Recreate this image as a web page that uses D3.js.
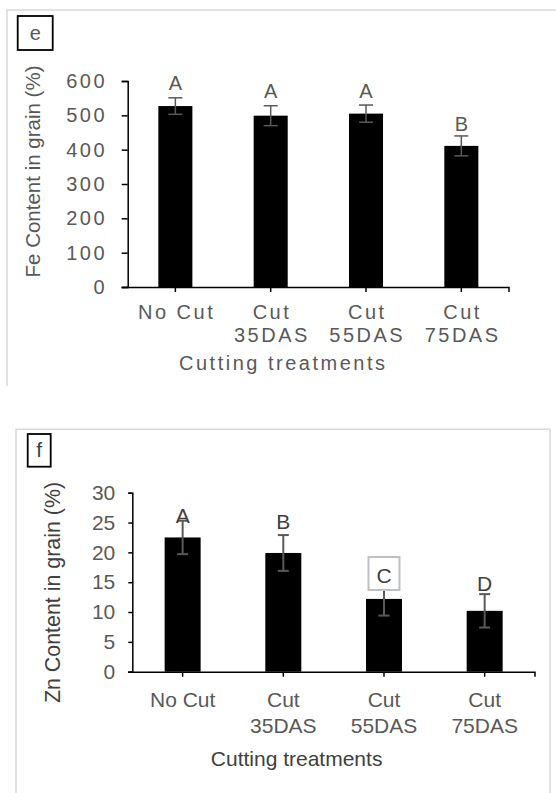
<!DOCTYPE html>
<html>
<head>
<meta charset="utf-8">
<script src="https://cdn.jsdelivr.net/npm/d3@7"></script>
<style>
  body { margin: 0; background: #fff; }
  text { font-family: "Liberation Sans", Arial, sans-serif; }
</style>
</head>
<body>
<div class="plot"></div>
<script>
// data
var categories = ["No Cut", "Cut 35DAS", "Cut 55DAS", "Cut 75DAS"];
var catLines = [["No Cut"], ["Cut", "35DAS"], ["Cut", "55DAS"], ["Cut", "75DAS"]];

var feValues = [527, 499, 505, 411];
var feErrors = [24, 29, 25, 29];
var feLetters = ["A", "A", "A", "B"];
var feLetterAt = [574, 551, 551, 454];
var feTicks = [0, 100, 200, 300, 400, 500, 600];

var znValues = [22.5, 19.9, 12.2, 10.2];
var znErrors = [2.8, 3.0, 2.8, 2.8];
var znLetters = ["A", "B", "C", "D"];
var znLetterAt = [24.95, 23.9, 14.87, 13.57];
var znBoxed = [false, false, true, false];
var znTicks = [0, 5, 10, 15, 20, 25, 30];

var svg = d3.select(".plot")
  .append("svg")
  .attr("width", 556)
  .attr("height", 793);

function drawPanel(p) {
  var g = svg.append("g");

  // outer frame (light grey, open at the bottom)
  g.append("path")
    .attr("d", p.frame)
    .attr("fill", "none")
    .attr("stroke", "#d9d9d9")
    .attr("stroke-width", 1.5);

  // panel letter in a box
  g.append("rect")
    .attr("x", p.tag.x).attr("y", p.tag.y)
    .attr("width", p.tag.w).attr("height", p.tag.h)
    .attr("fill", "#fff")
    .attr("stroke", "#000")
    .attr("stroke-width", 1.8);
  g.append("text")
    .attr("x", p.tag.x + p.tag.w / 2)
    .attr("y", p.tag.base)
    .attr("text-anchor", "middle")
    .style("font-size", p.tag.size + "px")
    .style("fill", p.tag.color)
    .text(p.tag.label);

  var y = d3.scaleLinear().domain(p.domain).range([p.y0, p.y1]);
  var x = d3.scaleBand().domain(categories).range([p.x0, p.x1])
    .paddingInner(p.pad).paddingOuter(p.pad / 2);

  var ls = p.spacing;

  // y axis
  var yAxis = g.append("g")
    .attr("transform", `translate(${p.x0}, 0)`)
    .call(d3.axisLeft(y).tickValues(p.ticks).tickSize(p.yTick).tickSizeOuter(p.yTick).tickPadding(p.yPad));
  yAxis.select(".domain").attr("stroke", "#000").attr("stroke-width", 1.5);
  yAxis.selectAll(".tick line").attr("stroke", "#000").attr("stroke-width", 1.5);
  yAxis.selectAll("text")
    .attr("font-family", null)
    .style("font-size", p.font + "px")
    .style("letter-spacing", ls + "px")
    .style("fill", "#595959");

  // bars
  g.selectAll(".bar")
    .data(p.values)
    .enter()
    .append("rect")
    .attr("x", (d, i) => x(categories[i]))
    .attr("y", d => y(d))
    .attr("width", x.bandwidth())
    .attr("height", d => y(0) - y(d))
    .attr("fill", "#000");

  // x axis
  var xAxis = g.append("g")
    .attr("transform", `translate(0, ${p.y0})`)
    .call(d3.axisBottom(x).tickSize(5).tickSizeOuter(0));
  xAxis.select(".domain").attr("stroke", "#000").attr("stroke-width", 1.5)
    .attr("d", `M${p.x0 - p.yTick},0.5H${p.x1}V5`);
  xAxis.selectAll(".tick line").attr("stroke", "#000").attr("stroke-width", 1.5);
  xAxis.selectAll(".tick text").each(function(d, i) {
    var t = d3.select(this)
      .attr("font-family", null)
      .attr("dy", null)
      .attr("y", null)
      .style("font-size", p.font + "px")
      .style("letter-spacing", ls + "px")
      .style("fill", "#595959")
      .text(null);
    catLines[i].forEach((line, k) => {
      t.append("tspan")
        .attr("x", ls / 2)
        .attr("y", p.lab1 + k * p.labStep)
        .text(line);
    });
  });

  // error bars
  var eb = g.selectAll(".err")
    .data(p.values)
    .enter()
    .append("g")
    .attr("stroke", "#595959")
    .attr("stroke-width", p.ebWidth);
  eb.append("line")
    .attr("x1", (d, i) => x(categories[i]) + x.bandwidth() / 2)
    .attr("x2", (d, i) => x(categories[i]) + x.bandwidth() / 2)
    .attr("y1", (d, i) => y(d - p.errors[i]))
    .attr("y2", (d, i) => y(d + p.errors[i]));
  [-1, 1].forEach(s => {
    eb.append("line")
      .attr("x1", (d, i) => x(categories[i]) + x.bandwidth() / 2 - p.cap / 2)
      .attr("x2", (d, i) => x(categories[i]) + x.bandwidth() / 2 + p.cap / 2)
      .attr("y1", (d, i) => y(d + s * p.errors[i]))
      .attr("y2", (d, i) => y(d + s * p.errors[i]));
  });

  // significance letters
  p.letters.forEach((l, i) => {
    var cx = x(categories[i]) + x.bandwidth() / 2;
    var ty = y(p.letterAt[i]);
    if (p.boxed && p.boxed[i]) {
      g.append("rect")
        .attr("x", cx - 15.5).attr("y", ty - 26)
        .attr("width", 31).attr("height", 33)
        .attr("fill", "#fff")
        .attr("stroke", "#bfbfbf")
        .attr("stroke-width", 2);
    }
    g.append("text")
      .attr("x", cx + ls / 2)
      .attr("y", ty)
      .attr("text-anchor", "middle")
      .style("font-size", p.font + "px")
      .style("letter-spacing", ls + "px")
      .style("fill", p.letterColor)
      .text(l);
  });

  // axis titles
  g.append("text")
    .attr("x", p.xTitle.x + ls / 2)
    .attr("y", p.xTitle.y)
    .attr("text-anchor", "middle")
    .style("font-size", p.font + "px")
    .style("letter-spacing", ls + "px")
    .style("fill", p.titleColor)
    .text("Cutting treatments");

  g.append("text")
    .attr("transform", `translate(${p.yTitle.x}, ${p.yTitle.y}) rotate(-90)`)
    .attr("text-anchor", "middle")
    .style("font-size", p.yTitle.size + "px")
    .style("fill", p.titleColor)
    .text(p.yTitle.label);
}

// panel e: Fe content
drawPanel({
  frame: "M7,386V10H556",
  tag: { x: 17.7, y: 16, w: 35, h: 34, base: 40, size: 20, label: "e", color: "#595959" },
  domain: [0, 600], y0: 287, y1: 81, ticks: feTicks,
  x0: 127.7, x1: 509, pad: 0.643,
  yTick: 6, yPad: 14.6, font: 20, spacing: 2.5,
  lab1: 32, labStep: 22.7,
  values: feValues, errors: feErrors, cap: 14, ebWidth: 1.5,
  letters: feLetters, letterAt: feLetterAt, letterColor: "#595959",
  xTitle: { x: 282, y: 370 },
  yTitle: { x: 40, y: 171.5, size: 20.5, label: "Fe Content in grain (%)" },
  titleColor: "#595959"
});

// panel f: Zn content
drawPanel({
  frame: "M16,793V429.3H550V793",
  tag: { x: 27.7, y: 434, w: 23, h: 32.7, base: 457, size: 21, label: "f", color: "#404040" },
  domain: [0, 30], y0: 671.7, y1: 492.7, ticks: znTicks,
  x0: 132.3, x1: 535, pad: 0.6425,
  yTick: 4, yPad: 13, font: 21, spacing: 0,
  lab1: 35.5, labStep: 25.5,
  values: znValues, errors: znErrors, cap: 11, ebWidth: 2,
  letters: znLetters, letterAt: znLetterAt, boxed: znBoxed, letterColor: "#404040",
  xTitle: { x: 296.6, y: 766 },
  yTitle: { x: 59.5, y: 592.5, size: 21.4, label: "Zn Content in grain (%)" },
  titleColor: "#404040"
});
</script>
</body>
</html>
